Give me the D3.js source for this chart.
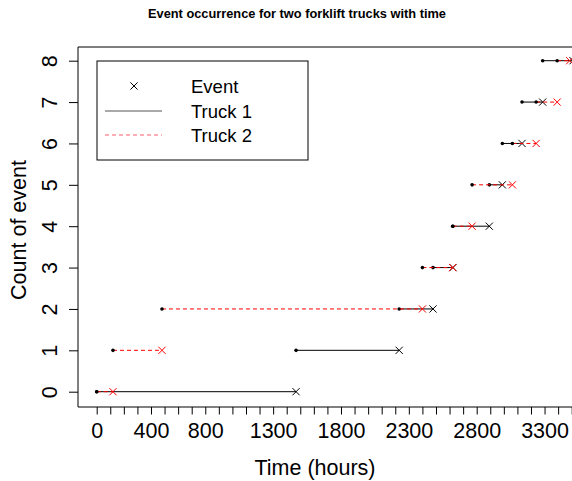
<!DOCTYPE html>
<html>
<head>
<meta charset="utf-8">
<script src="https://cdn.jsdelivr.net/npm/d3@7"></script>
<style>
  body { margin: 0; background: #fff; }
  svg { display: block; font-family: "Liberation Sans", Arial, Helvetica, sans-serif; }
</style>
</head>
<body>
<script>
// event times (hours) for each truck, the k-th event ends level k
var truck1Times = [1469, 2229, 2478, 2625, 2893, 2989, 3134, 3286, 3510];
var truck2Times = [120, 481, 2400, 2623, 2766, 3063, 3238, 3393, 3485];

var xTicks = d3.range(0, 3600, 100);
var xTickLabels = [0, 400, 800, 1300, 1800, 2300, 2800, 3300];
var yTicks = [0, 1, 2, 3, 4, 5, 6, 7, 8];
var legendItems = ["Event", "Truck 1", "Truck 2"];

var width = 572, height = 481;
var axisFont = "21.5px";

var svg = d3.select("body").append("svg")
  .attr("width", width)
  .attr("height", height);

// plot region (right side runs past the window, as in the original)
var plotLeft = 78, plotTop = 47, plotBottom = 407;

var x = d3.scaleLinear().domain([0, 3500]).range([96.7, 571.7]);
var y = d3.scaleLinear().domain([0, 8]).range([391.7, 60.7]);

// title
svg.append("text")
  .attr("x", 297)
  .attr("y", 18)
  .attr("text-anchor", "middle")
  .style("font-weight", "bold")
  .style("font-size", "12.8px")
  .text("Event occurrence for two forklift trucks with time");

// box
svg.append("path")
  .attr("d", "M" + (width + 5) + "," + plotTop + "H" + plotLeft + "V" + plotBottom + "H" + (width + 5))
  .attr("fill", "none")
  .attr("stroke", "#000")
  .attr("stroke-width", 1);

// x axis
var xAxis = d3.axisBottom(x)
  .tickValues(xTicks)
  .tickSize(7.5)
  .tickFormat(function (d) { return xTickLabels.indexOf(d) >= 0 ? d : ""; });

var gx = svg.append("g")
  .attr("transform", "translate(0," + plotBottom + ")")
  .call(xAxis);
gx.select(".domain").remove();
gx.selectAll("text")
  .attr("dy", 0)
  .attr("y", 31)
  .style("font-size", axisFont)
  .style("font-family", "\"Liberation Sans\", Arial, sans-serif")
  .attr("fill", "#000");

// y axis
var yAxis = d3.axisLeft(y)
  .tickValues(yTicks)
  .tickSize(9)
  .tickFormat(d3.format("d"));

var gy = svg.append("g")
  .attr("transform", "translate(" + plotLeft + ",0)")
  .call(yAxis);
gy.select(".domain").remove();
gy.selectAll("text")
  .attr("x", 0)
  .attr("y", 0)
  .attr("dy", 0)
  .attr("text-anchor", "middle")
  .attr("transform", "translate(-21,0) rotate(-90)")
  .style("font-size", axisFont)
  .style("font-family", "\"Liberation Sans\", Arial, sans-serif")
  .attr("fill", "#000");

// axis titles
svg.append("text")
  .attr("x", 315)
  .attr("y", 475)
  .attr("text-anchor", "middle")
  .style("font-size", axisFont)
  .text("Time (hours)");

svg.append("text")
  .attr("transform", "translate(25.5,230) rotate(-90)")
  .attr("text-anchor", "middle")
  .style("font-size", axisFont)
  .text("Count of event");

// build segments: level k runs from event k-1 (or 0) to event k
function segments(times) {
  return times.map(function (t, k) {
    return { level: k, start: k === 0 ? 0 : times[k - 1], end: t };
  });
}

var trucks = [
  { name: "Truck 1", segs: segments(truck1Times), color: "#000", dash: null },
  { name: "Truck 2", segs: segments(truck2Times), color: "#ff0000", dash: "4,3" }
];

var plot = svg.append("g");

trucks.forEach(function (tr) {
  var g = plot.append("g");
  g.selectAll("line.seg")
    .data(tr.segs)
    .enter().append("line")
    .attr("class", "seg")
    .attr("x1", function (d) { return x(d.start); })
    .attr("x2", function (d) { return x(d.end); })
    .attr("y1", function (d) { return y(d.level); })
    .attr("y2", function (d) { return y(d.level); })
    .attr("stroke", tr.color)
    .attr("stroke-width", 1)
    .attr("stroke-dasharray", tr.dash);

  g.selectAll("circle")
    .data(tr.segs)
    .enter().append("circle")
    .attr("cx", function (d) { return x(d.start); })
    .attr("cy", function (d) { return y(d.level); })
    .attr("r", 1.8)
    .attr("fill", "#000");

  g.selectAll("path.cross")
    .data(tr.segs)
    .enter().append("path")
    .attr("class", "cross")
    .attr("d", function (d) {
      var cx = x(d.end), cy = y(d.level), s = 3.6;
      return "M" + (cx - s) + "," + (cy - s) + "L" + (cx + s) + "," + (cy + s) +
             "M" + (cx - s) + "," + (cy + s) + "L" + (cx + s) + "," + (cy - s);
    })
    .attr("stroke", tr.color)
    .attr("stroke-width", 1)
    .attr("fill", "none");
});

// legend
var legend = svg.append("g");
legend.append("rect")
  .attr("x", 97)
  .attr("y", 61)
  .attr("width", 211)
  .attr("height", 99)
  .attr("fill", "#fff")
  .attr("stroke", "#000")
  .attr("stroke-width", 1);

legendItems.forEach(function (lab, i) {
  var ly = Math.round(86 + i * 24.7);
  if (i === 0) {
    var s = 3.6;
    legend.append("path")
      .attr("d", "M" + (134 - s) + "," + (ly - s) + "L" + (134 + s) + "," + (ly + s) +
                 "M" + (134 - s) + "," + (ly + s) + "L" + (134 + s) + "," + (ly - s))
      .attr("stroke", "#000")
      .attr("fill", "none");
  } else {
    legend.append("line")
      .attr("x1", 105).attr("x2", 162)
      .attr("y1", ly).attr("y2", ly)
      .attr("stroke", i === 1 ? "#555" : "#ff5c6c")
      .attr("stroke-dasharray", i === 1 ? null : "4,3");
  }
  legend.append("text")
    .attr("x", 191)
    .attr("y", ly + 7.3)
    .style("font-size", "18.5px")
    .text(lab);
});
</script>
</body>
</html>
